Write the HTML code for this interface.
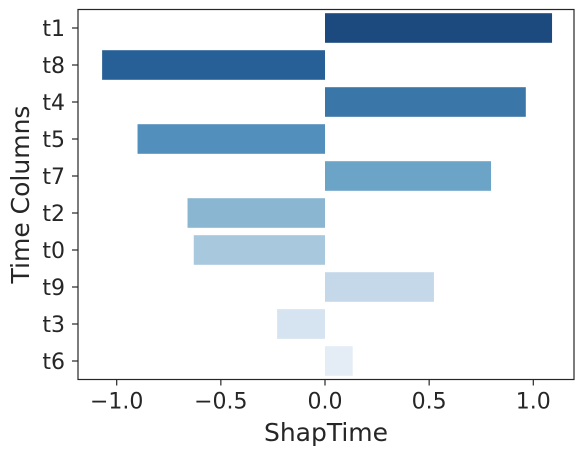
<!DOCTYPE html>
<html><head><meta charset="utf-8"><style>
body{margin:0;background:#fff;}
svg text{font-family:"DejaVu Sans","Liberation Sans",sans-serif;fill:#262626;}
</style></head><body>
<svg id="chart" width="584" height="456">
<g id="bars"></g>
<g id="axes"></g>
</svg>
<script>
const categories=["t1","t8","t4","t5","t7","t2","t0","t9","t3","t6"];
const values=[1.09,-1.07,0.964,-0.90,0.797,-0.66,-0.63,0.523,-0.23,0.133];
const colors=["#1c4a7e","#276096","#3a76a8","#538fbd","#6ca4c8","#8ab6d2","#a8c8dd","#c4d8ea","#d6e3f0","#e4edf6"];
const xTicks=[-1.0,-0.5,0.0,0.5,1.0];
const xTickLabels=["−1.0","−0.5","0.0","0.5","1.0"];
const L=78,R=574,T=9.5,B=379.5;
const x0=325,pxPer=208.3;
function xs(v){return x0+v*pxPer;}
const rowH=(B-T)/categories.length;
function yc(i){return T+rowH*(i+0.5);}
const NS="http://www.w3.org/2000/svg";
const bars=document.getElementById('bars'),axes=document.getElementById('axes');
function mk(tag,at,parent){const e=document.createElementNS(NS,tag);for(const k in at)e.setAttribute(k,at[k]);parent.appendChild(e);return e;}
categories.forEach((c,i)=>{
  const v=values[i];
  const r=mk('rect',{x:Math.min(xs(0),xs(v)),y:yc(i)-rowH*0.4,width:Math.abs(xs(v)-xs(0)),height:rowH*0.8,fill:colors[i]},bars);
  
  
  mk('line',{x1:L,x2:L-6,y1:yc(i),y2:yc(i),stroke:'#262626','stroke-width':1.2},axes);
  const t=mk('text',{x:L-13,y:yc(i)+8,'text-anchor':'end','font-size':22},axes);
  t.textContent=c;
  
  
});
xTicks.forEach((v,i)=>{
  mk('line',{x1:xs(v),x2:xs(v),y1:B,y2:B+6,stroke:'#262626','stroke-width':1.2},axes);
  const t=mk('text',{x:xs(v),y:B+29,'text-anchor':'middle','font-size':22},axes);
  t.textContent=xTickLabels[i];
  
  
});
const f=mk('rect',{x:L,y:T,width:R-L,height:B-T,fill:'none',stroke:'#262626','stroke-width':1.2},axes);


const xl=mk('text',{x:(L+R)/2,y:441,'text-anchor':'middle','font-size':25},axes);
xl.textContent='ShapTime';


const yl=mk('text',{x:0,y:0,'text-anchor':'middle','font-size':25,transform:'translate(29,'+((T+B)/2)+') rotate(-90)'},axes);
yl.textContent='Time Columns';


</script>
</body></html>
